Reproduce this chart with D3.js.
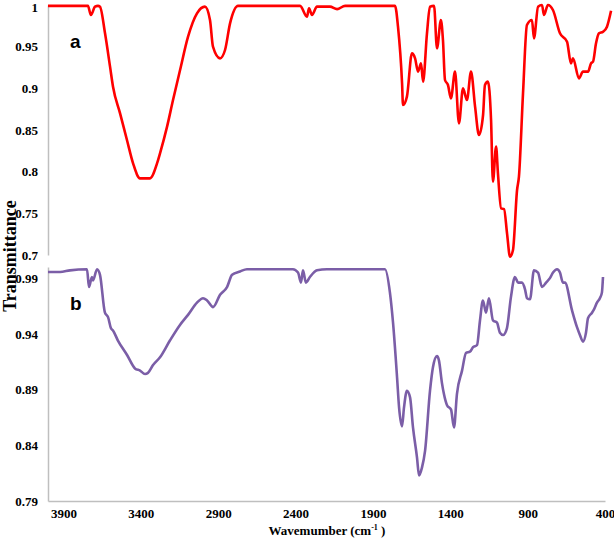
<!DOCTYPE html>
<html>
<head>
<meta charset="utf-8">
<script src="https://cdn.jsdelivr.net/npm/d3@7"></script>
<style>
  body { margin: 0; background: #fff; }
  svg { display: block; }
  .tick-label { font-family: "Liberation Serif", "Times New Roman", serif; font-weight: bold; font-size: 13px; fill: #000; }
</style>
</head>
<body>
<svg id="canvas" width="614" height="538"></svg>
<script>
// spectrum a (red)
let waveA = [4000, 3745, 3726, 3700, 3681, 3668, 3636, 3604, 3585, 3540, 3496, 3457, 3413, 3349, 3304, 3285, 3240, 3202, 3157, 3106, 3049, 2998, 2966, 2947, 2902, 2870, 2838, 2787, 2391, 2347, 2334, 2315, 2283, 2200, 2155, 2104, 1785, 1766, 1740, 1734, 1709, 1677, 1657, 1638, 1619, 1606, 1581, 1562, 1536, 1517, 1492, 1479, 1466, 1447, 1428, 1402, 1377, 1351, 1326, 1300, 1274, 1249, 1223, 1211, 1192, 1172, 1160, 1140, 1128, 1108, 1089, 1070, 1051, 1032, 1006, 994, 968, 943, 911, 898, 872, 847, 834, 809, 777, 732, 687, 662, 649, 611, 585, 553, 534, 521, 502, 483, 457, 432, 406]
let transA = [0.999, 0.999, 0.988, 0.998, 0.999, 0.998, 0.966, 0.926, 0.902, 0.870, 0.838, 0.810, 0.792, 0.792, 0.810, 0.822, 0.854, 0.886, 0.922, 0.962, 0.990, 0.998, 0.982, 0.950, 0.936, 0.946, 0.978, 0.999, 0.999, 0.986, 0.996, 0.988, 0.998, 0.998, 0.995, 0.999, 0.999, 0.974, 0.906, 0.880, 0.890, 0.942, 0.936, 0.920, 0.930, 0.908, 0.966, 0.998, 0.999, 0.948, 0.982, 0.958, 0.910, 0.904, 0.888, 0.920, 0.858, 0.900, 0.886, 0.920, 0.878, 0.844, 0.868, 0.904, 0.908, 0.862, 0.788, 0.830, 0.798, 0.756, 0.755, 0.726, 0.698, 0.706, 0.778, 0.794, 0.894, 0.976, 0.982, 0.960, 0.998, 1.000, 0.988, 1.000, 0.994, 0.966, 0.956, 0.930, 0.936, 0.912, 0.920, 0.920, 0.930, 0.932, 0.954, 0.966, 0.968, 0.974, 0.993]

// spectrum b (purple)
let waveB = [4000, 3922, 3858, 3748, 3735, 3716, 3709, 3683, 3664, 3632, 3612, 3593, 3580, 3548, 3489, 3438, 3405, 3373, 3354, 3321, 3276, 3212, 3147, 3095, 3037, 2998, 2972, 2933, 2888, 2843, 2810, 2759, 2714, 2417, 2384, 2365, 2352, 2333, 2307, 2261, 2197, 1822, 1790, 1770, 1744, 1731, 1712, 1699, 1680, 1660, 1641, 1615, 1602, 1583, 1563, 1531, 1512, 1486, 1473, 1454, 1441, 1421, 1395, 1376, 1357, 1324, 1298, 1273, 1253, 1227, 1208, 1189, 1169, 1150, 1124, 1098, 1079, 1059, 1034, 1008, 982, 962, 937, 917, 904, 885, 859, 833, 807, 781, 756, 736, 710, 691, 672, 659, 613, 581, 562, 542, 523, 510, 484, 471, 452, 433, 420, 413]
let transB = [0.9955, 0.9955, 0.997, 0.998, 0.982, 0.991, 0.988, 0.998, 0.993, 0.959, 0.955, 0.945, 0.943, 0.934, 0.921, 0.909, 0.907, 0.904, 0.905, 0.912, 0.919, 0.934, 0.948, 0.957, 0.968, 0.972, 0.970, 0.964, 0.975, 0.982, 0.993, 0.996, 0.998, 0.998, 0.995, 0.986, 0.997, 0.986, 0.991, 0.997, 0.998, 0.998, 0.977, 0.950, 0.901, 0.874, 0.857, 0.874, 0.889, 0.883, 0.856, 0.829, 0.813, 0.820, 0.835, 0.889, 0.910, 0.920, 0.916, 0.896, 0.886, 0.876, 0.872, 0.856, 0.886, 0.907, 0.923, 0.924, 0.928, 0.930, 0.952, 0.970, 0.959, 0.972, 0.952, 0.950, 0.941, 0.939, 0.945, 0.973, 0.991, 0.986, 0.986, 0.980, 0.972, 0.971, 0.997, 0.995, 0.982, 0.986, 0.990, 0.995, 0.998, 0.995, 0.986, 0.986, 0.961, 0.946, 0.939, 0.933, 0.941, 0.954, 0.959, 0.962, 0.968, 0.972, 0.977, 0.991]

let xTicks = [3900, 3400, 2900, 2400, 1900, 1400, 900, 400]
let yTicksA = [1, 0.95, 0.9, 0.85, 0.8, 0.75, 0.7]
let yTicksB = [0.99, 0.94, 0.89, 0.84, 0.79]

let canvas = d3.select('#canvas')
let axisColor = '#bfbfbf'

// the two panels were separate charts, the top one is a little wider
let xTop = d3.scaleLinear().domain([4000, 400]).range([48, 612])
let xBottom = d3.scaleLinear().domain([4000, 400]).range([48, 605])
let yTop = d3.scaleLinear().domain([0.7, 1]).range([255, 5])
let yBottom = d3.scaleLinear().domain([0.79, 1]).range([501, 267])

let drawPanel = (yScale, ticks, fmt) => {
    let yAxis = d3.axisLeft(yScale)
                  .tickValues(ticks)
                  .tickSize(0)
                  .tickPadding(10)
                  .tickFormat(fmt)
    let g = canvas.append('g')
                  .attr('transform', 'translate(48,0)')
                  .call(yAxis)
    g.select('.domain').attr('stroke', axisColor).attr('stroke-width', 1.5)
    g.selectAll('text').attr('class', 'tick-label')
    return g
}

let gA = drawPanel(yTop, yTicksA, d3.format(''))
// keep the "1" inside the picture
gA.selectAll('.tick text').filter((d) => d === 1).attr('dy', '0.5em')
drawPanel(yBottom, yTicksB, d3.format('.2f'))

// x axis under the bottom panel
let xAxis = d3.axisBottom(xBottom)
              .tickValues(xTicks)
              .tickSize(0)
              .tickPadding(8)
              .tickFormat(d3.format('d'))
let gx = canvas.append('g')
               .attr('transform', 'translate(0,501)')
               .call(xAxis)
gx.select('.domain').attr('stroke', axisColor).attr('stroke-width', 1.5)
gx.selectAll('text').attr('class', 'tick-label')

let lineTop = d3.line()
                .x((d) => xTop(d[0]))
                .y((d) => yTop(d[1]))
                .curve(d3.curveMonotoneX)
let lineBottom = d3.line()
                   .x((d) => xBottom(d[0]))
                   .y((d) => yBottom(d[1]))
                   .curve(d3.curveMonotoneX)

canvas.append('path')
      .datum(waveA.map((w, i) => [w, transA[i]]))
      .attr('d', lineTop)
      .attr('fill', 'none')
      .attr('stroke', '#ff0000')
      .attr('stroke-width', 2.6)
      .attr('stroke-linejoin', 'round')

canvas.append('path')
      .datum(waveB.map((w, i) => [w, transB[i]]))
      .attr('d', lineBottom)
      .attr('fill', 'none')
      .attr('stroke', '#7b5ea7')
      .attr('stroke-width', 2.6)
      .attr('stroke-linejoin', 'round')

// panel letters
canvas.append('text')
      .text('a')
      .attr('x', 70)
      .attr('y', 48)
      .style('font-family', 'Liberation Sans, Arial, sans-serif')
      .style('font-weight', 'bold')
      .style('font-size', '19px')
canvas.append('text')
      .text('b')
      .attr('x', 70)
      .attr('y', 310)
      .style('font-family', 'Liberation Sans, Arial, sans-serif')
      .style('font-weight', 'bold')
      .style('font-size', '19px')

// axis titles
canvas.append('text')
      .text('Transmittance')
      .attr('transform', 'translate(16,256) rotate(-90)')
      .attr('text-anchor', 'middle')
      .style('font-family', 'Liberation Serif, Times New Roman, serif')
      .style('font-weight', 'bold')
      .style('font-size', '18px')

let xTitle = canvas.append('text')
                   .attr('x', 327)
                   .attr('y', 535)
                   .attr('text-anchor', 'middle')
                   .style('font-family', 'Liberation Serif, Times New Roman, serif')
                   .style('font-weight', 'bold')
                   .style('font-size', '13px')
xTitle.append('tspan').text('Wavemumber (cm')
xTitle.append('tspan').text('-1').attr('dy', -5).style('font-size', '8px')
xTitle.append('tspan').text(' )').attr('dy', 5)
</script>
</body>
</html>
